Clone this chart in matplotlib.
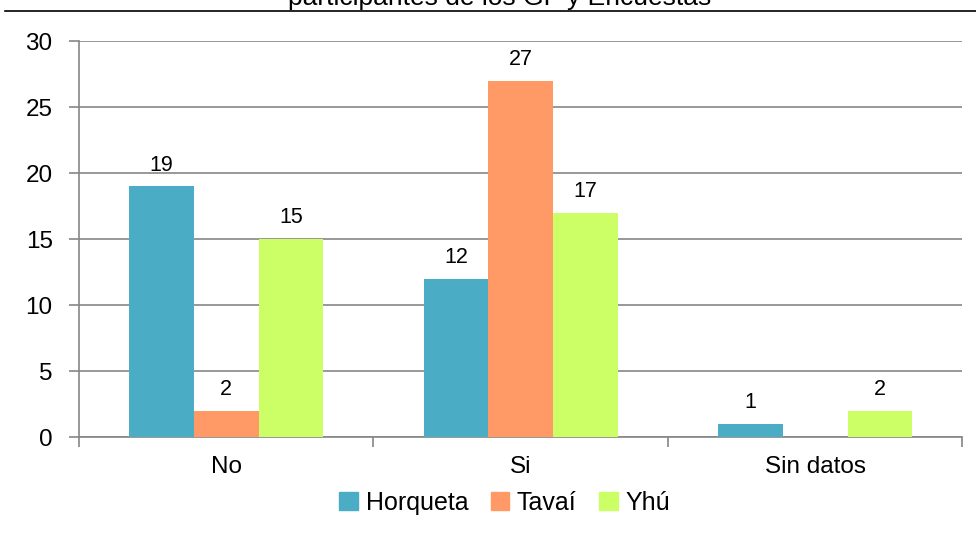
import matplotlib.pyplot as plt
import numpy as np
from matplotlib.patches import Patch

plt.rcParams['font.family'] = ['Liberation Sans', 'DejaVu Sans']

# Data
categories = ['No', 'Si', 'Sin datos']
series = ['Horqueta', 'Tavaí', 'Yhú']
horqueta = [19, 12, 1]
tavai = [2, 27, 0]
yhu = [15, 17, 2]
colors = ['#4BACC6', '#FF9966', '#CCFF66']

fig = plt.figure(figsize=(9.76, 5.55), dpi=100)
ax = fig.add_axes([0.081, 0.2126, 0.905, 0.7135])

x = np.arange(len(categories))
width = 0.22
values = [horqueta, tavai, yhu]
for i, (vals, col) in enumerate(zip(values, colors)):
    pos = x + (i - 1) * width
    for p, v in zip(pos, vals):
        if v == 0:
            continue
        ax.bar(p, v, width, color=col, zorder=3)
        ax.text(p, v + 0.8, str(v), ha='center', va='bottom', fontsize=15.5)

ax.set_xlim(-0.5, 2.5)
ax.set_ylim(0, 30)
ax.set_yticks(range(0, 31, 5))
ax.yaxis.grid(True, color='#868686', lw=1.2, zorder=1)
ax.set_axisbelow(True)

# category labels centered, ticks at boundaries
ax.set_xticks([-0.5, 0.5, 1.5, 2.5])
ax.set_xticklabels([])
ax.set_xticks(x, minor=True)
ax.set_xticklabels(categories, minor=True, fontsize=17.5)
ax.tick_params(axis='x', which='minor', length=0, pad=14)
ax.tick_params(axis='x', which='major', length=7, color='#868686', width=1.2)
ax.tick_params(axis='y', length=7, color='#868686', width=1.2, labelsize=17.5, pad=12)

for s in ['top', 'right']:
    ax.spines[s].set_visible(False)
for s in ['left', 'bottom']:
    ax.spines[s].set_color('#868686')
    ax.spines[s].set_linewidth(1.2)

# title partly cut off at top
fig.text(0.512, 0.991, 'participantes de los GF y Encuestas', ha='center', va='baseline', fontsize=19)
fig.add_artist(plt.Line2D([0.005, 1.0], [0.980, 0.980], color='black', lw=1.2, transform=fig.transFigure))

handles = [Patch(color=c) for c in colors]
fig.legend(handles, series, loc='center', bbox_to_anchor=(0.517, 0.094), ncol=3, frameon=False,
           fontsize=18, handlelength=0.75, handleheight=0.75, handletextpad=0.3, columnspacing=0.9)

fig.savefig('out.png', dpi=100)
